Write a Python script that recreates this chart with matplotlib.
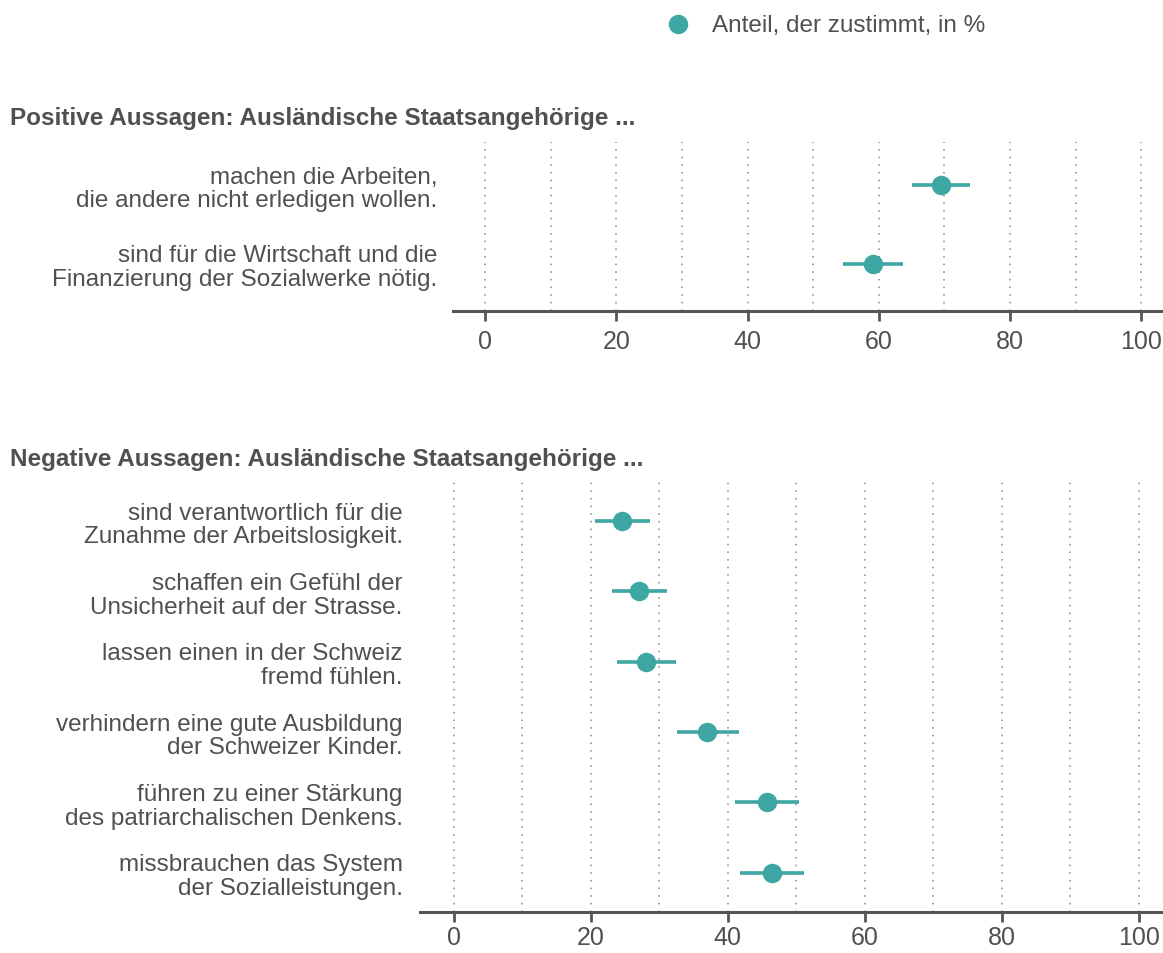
import matplotlib.pyplot as plt

# ===== DATA =====
pos_labels = [
    "machen die Arbeiten,\ndie andere nicht erledigen wollen.",
    "sind für die Wirtschaft und die\nFinanzierung der Sozialwerke nötig.",
]
pos_values = [69.5, 59.1]
pos_low = [65.0, 54.5]
pos_high = [73.9, 63.7]

neg_labels = [
    "sind verantwortlich für die\nZunahme der Arbeitslosigkeit.",
    "schaffen ein Gefühl der\nUnsicherheit auf der Strasse.",
    "lassen einen in der Schweiz\nfremd fühlen.",
    "verhindern eine gute Ausbildung\nder Schweizer Kinder.",
    "führen zu einer Stärkung\ndes patriarchalischen Denkens.",
    "missbrauchen das System\nder Sozialleistungen.",
]
neg_values = [24.5, 27.1, 28.0, 36.9, 45.7, 46.5]
neg_low = [20.6, 23.1, 23.8, 32.6, 41.0, 41.8]
neg_high = [28.6, 31.2, 32.4, 41.6, 50.4, 51.1]

xticks = [0, 20, 40, 60, 80, 100]
legend_label = "Anteil, der zustimmt, in %"

TEAL = "#3fa7a3"
TEXT = "#505050"
AXIS = "#555555"
FS = 17.5

plt.rcParams["font.family"] = ["Liberation Sans", "DejaVu Sans"]

fig = plt.figure(figsize=(11.63, 9.54), dpi=100)
W, H = 1163, 954


def px_axes(left, top, right, bottom):
    return fig.add_axes([left / W, 1 - bottom / H, (right - left) / W, (bottom - top) / H])


def draw_panel(ax, labels, values, low, high, xlim, ylim, ypad, xpad):
    y = list(range(len(labels)))
    xerr = [[v - l for v, l in zip(values, low)], [h - v for v, h in zip(values, high)]]
    ax.errorbar(values, y, xerr=xerr, fmt="o", color=TEAL, ecolor=TEAL,
                elinewidth=2.6, markersize=13, capsize=0, zorder=3)
    ax.set_xlim(*xlim)
    ax.set_ylim(*ylim)
    ax.set_xticks(xticks)
    ax.set_xticks(range(0, 101, 10), minor=True)
    ax.set_yticks(y)
    ax.set_yticklabels(labels, ha="right", ma="right", linespacing=1.1)
    ax.grid(axis="x", which="both", linestyle=(0, (1, 4)), color="#888888", linewidth=1.1)
    ax.set_axisbelow(True)
    for s in ["top", "right", "left"]:
        ax.spines[s].set_visible(False)
    ax.spines["bottom"].set_color(AXIS)
    ax.spines["bottom"].set_linewidth(2.2)
    ax.tick_params(axis="x", which="major", length=7, width=2, color=AXIS,
                   labelsize=18, labelcolor=TEXT, pad=xpad)
    ax.tick_params(axis="x", which="minor", length=0)
    ax.tick_params(axis="y", length=0, labelsize=FS, labelcolor=TEXT, pad=ypad)


ax1 = px_axes(453, 143, 1163, 312)
draw_panel(ax1, pos_labels, pos_values, pos_low, pos_high, (-4.9, 103.3), (1.6, -0.55), 11.5, 6)

ax2 = px_axes(420, 482, 1163, 913)
draw_panel(ax2, neg_labels, neg_values, neg_low, neg_high, (-4.9, 103.5), (5.56, -0.57), 12.5, 2.5)

fig.text(10 / W, 1 - 118 / H, "Positive Aussagen: Ausländische Staatsangehörige ...",
         fontsize=FS, fontweight="bold", color=TEXT, va="center", ha="left")
fig.text(10 / W, 1 - 460 / H, "Negative Aussagen: Ausländische Staatsangehörige ...",
         fontsize=FS, fontweight="bold", color=TEXT, va="center", ha="left")

# legend
fig.lines.append(plt.Line2D([678 / W], [1 - 25 / H], marker="o", color=TEAL,
                            markersize=13, transform=fig.transFigure, linestyle="none"))
fig.text(712 / W, 1 - 26 / H, legend_label, fontsize=FS, color=TEXT,
         va="center", ha="left")

fig.savefig("out.png", dpi=100, facecolor="white")
